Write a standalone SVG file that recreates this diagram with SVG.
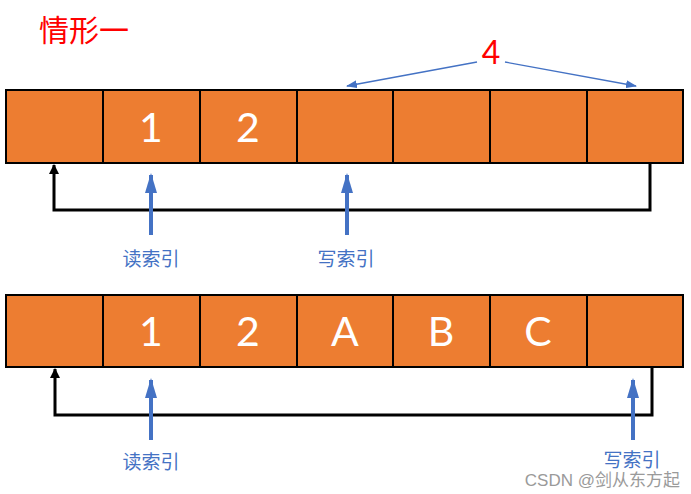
<svg xmlns="http://www.w3.org/2000/svg" width="691" height="494" viewBox="0 0 691 494">
<defs>
<style>
.cell{fill:#ED7D31;stroke:#000;stroke-width:2}
.num{font-family:Lato,"Liberation Sans",sans-serif;font-size:41px;fill:#fff;text-anchor:middle}
.lbl{font-family:"Noto Sans CJK SC",sans-serif;font-size:19px;fill:#4472C4;text-anchor:middle}
.blk{fill:none;stroke:#000;stroke-width:3}
.blue{stroke:#4472C4;stroke-width:4;fill:none}
.thin{stroke:#4472C4;stroke-width:1.3;fill:none}
</style>
<marker id="ab" markerWidth="10" markerHeight="10" refX="9" refY="5" orient="auto" markerUnits="userSpaceOnUse" viewBox="0 0 10 10"><path d="M0,0 L10,5 L0,10 Z" fill="#000"/></marker>
<marker id="abl" markerWidth="20" markerHeight="12" refX="18" refY="6" orient="auto" markerUnits="userSpaceOnUse" viewBox="0 0 20 12"><path d="M0,0 L20,6 L0,12 Z" fill="#4472C4"/></marker>
<marker id="ath" markerWidth="11" markerHeight="8" refX="10" refY="4" orient="auto" markerUnits="userSpaceOnUse" viewBox="0 0 11 8"><path d="M0,0 L11,4 L0,8 Z" fill="#4472C4"/></marker>
</defs>
<text x="39" y="41" font-family="'Noto Sans CJK SC',sans-serif" font-size="30" fill="#FF0000">情形一</text>
<text x="491" y="64" font-family="Lato,'Liberation Sans',sans-serif" font-size="32" fill="#FF0000" text-anchor="middle">4</text>
<g id="row1">
<rect class="cell" x="6" y="90" width="97" height="73"/>
<rect class="cell" x="103" y="90" width="97" height="73"/>
<rect class="cell" x="200" y="90" width="97" height="73"/>
<rect class="cell" x="297" y="90" width="96" height="73"/>
<rect class="cell" x="393" y="90" width="97" height="73"/>
<rect class="cell" x="490" y="90" width="97" height="73"/>
<rect class="cell" x="587" y="90" width="96" height="73"/>
<text class="num" x="151" y="142">1</text>
<text class="num" x="248" y="142">2</text>
</g>
<g id="row2">
<rect class="cell" x="6" y="295" width="97" height="72"/>
<rect class="cell" x="103" y="295" width="97" height="72"/>
<rect class="cell" x="200" y="295" width="97" height="72"/>
<rect class="cell" x="297" y="295" width="96" height="72"/>
<rect class="cell" x="393" y="295" width="97" height="72"/>
<rect class="cell" x="490" y="295" width="97" height="72"/>
<rect class="cell" x="587" y="295" width="96" height="72"/>
<text class="num" x="151" y="346">1</text>
<text class="num" x="248" y="346">2</text>
<text class="num" x="345" y="346">A</text>
<text class="num" x="441" y="346">B</text>
<text class="num" x="538" y="346">C</text>
</g>
<g id="labels">
<text class="lbl" x="151" y="266">读索引</text>
<text class="lbl" x="346" y="266">写索引</text>
<text class="lbl" x="151" y="469">读索引</text>
<text class="lbl" x="632" y="467">写索引</text>
<text x="680" y="486" font-family="'Liberation Sans','Noto Sans CJK SC',sans-serif" font-size="17" fill="#9a9a9a" text-anchor="end">CSDN @剑从东方起</text>
</g>
<g id="connectors">
<path class="blk" d="M650,163 V210 H54 V165" marker-end="url(#ab)"/>
<path class="blk" d="M652,367 V415 H55 V369" marker-end="url(#ab)"/>
<path class="blue" d="M151,235 V175" marker-end="url(#abl)"/>
<path class="blue" d="M347,235 V175" marker-end="url(#abl)"/>
<path class="blue" d="M151,440 V380" marker-end="url(#abl)"/>
<path class="blue" d="M633,440 V380" marker-end="url(#abl)"/>
<path class="thin" d="M477,62 L347,86" marker-end="url(#ath)"/>
<path class="thin" d="M505,62 L636,86" marker-end="url(#ath)"/>
</g>
</svg>
